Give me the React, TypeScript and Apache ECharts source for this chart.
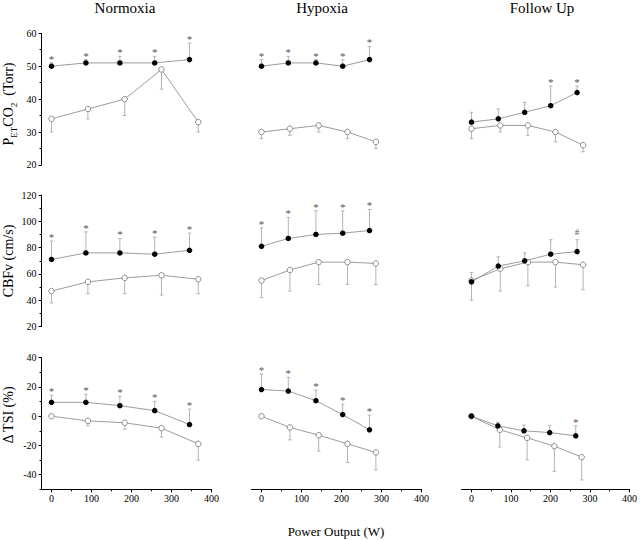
import React, { useEffect, useRef } from 'react';
import * as echarts from 'echarts';

// ---------- data ----------
const conditions = ['Normoxia', 'Hypoxia', 'Follow Up'];
const xTickValues = [0, 100, 200, 300, 400];
const xMinorTickValues = [50, 150, 250, 350];

// power output (W) of each stage, filled (●) and open (○) groups
const powerNormoxiaFilled = [0, 86, 171, 258, 345];
const powerNormoxiaOpen = [0, 91, 183, 275, 367];
const powerHypoxiaFilled = [0, 67, 136, 203, 270];
const powerHypoxiaOpen = [0, 71, 143, 215, 286];
const powerFollowFilled = [0, 67, 133, 198, 264];
const powerFollowOpen = [0, 72, 141, 210, 279];

// PETCO2 (Torr)
const petNormoxiaFilledMean = [50, 51, 51, 51, 52];
const petNormoxiaFilledSD = [1, 1, 2, 2, 5];
const petNormoxiaOpenMean = [34, 37, 40, 49, 33];
const petNormoxiaOpenSD = [4, 3, 5, 6, 3];
const petHypoxiaFilledMean = [50, 51, 51, 50, 52];
const petHypoxiaFilledSD = [2, 2, 1, 2, 4];
const petHypoxiaOpenMean = [30, 31, 32, 30, 27];
const petHypoxiaOpenSD = [2, 2, 2, 2, 2];
const petFollowFilledMean = [33, 34, 36, 38, 42];
const petFollowFilledSD = [3, 3, 3, 6, 2];
const petFollowOpenMean = [31, 32, 32, 30, 26];
const petFollowOpenSD = [3, 2, 3, 3, 2];

// CBFv (cm/s)
const cbfNormoxiaFilledMean = [71, 76, 76, 75, 78];
const cbfNormoxiaFilledSD = [14, 16, 11, 13, 13];
const cbfNormoxiaOpenMean = [47, 54, 57, 59, 56];
const cbfNormoxiaOpenSD = [9, 9, 12, 15, 11];
const cbfHypoxiaFilledMean = [81, 87, 90, 91, 93];
const cbfHypoxiaFilledSD = [14, 16, 18, 17, 16];
const cbfHypoxiaOpenMean = [55, 63, 69, 69, 68];
const cbfHypoxiaOpenSD = [13, 16, 17, 17, 16];
const cbfFollowFilledMean = [54, 66, 70, 75, 77];
const cbfFollowFilledSD = [7, 7, 6, 11, 9];
const cbfFollowOpenMean = [55, 64, 69, 69, 67];
const cbfFollowOpenSD = [15, 17, 18, 19, 19];

// Delta TSI (%)
const tsiNormoxiaFilledMean = [9.5, 9.5, 7.2, 3.8, -5.7];
const tsiNormoxiaFilledSD = [4.8, 5.5, 6.4, 6.4, 10.5];
const tsiNormoxiaOpenMean = [0, -3.2, -4.5, -8.2, -18.9];
const tsiNormoxiaOpenSD = [0, 3.4, 4.4, 6.1, 11.1];
const tsiHypoxiaFilledMean = [18.2, 17.2, 10.6, 1.1, -9.3];
const tsiHypoxiaFilledSD = [10.6, 9.4, 7.3, 7.1, 10];
const tsiHypoxiaOpenMean = [0, -7.7, -13, -18.9, -24.8];
const tsiHypoxiaOpenSD = [0, 8.5, 10.9, 12.7, 12];
const tsiFollowFilledMean = [0, -6.6, -10, -11.2, -13.4];
const tsiFollowFilledSD = [0, 2.5, 3.9, 4.6, 6.8];
const tsiFollowOpenMean = [0, -9.3, -14.8, -20.5, -28];
const tsiFollowOpenSD = [0, 11.8, 15, 17.2, 15.6];

// significance marks above the filled group
const marksPetNormoxia = ['*', '*', '*', '*', '*'];
const marksPetHypoxia = ['*', '*', '*', '*', '*'];
const marksPetFollow = ['', '', '', '*', '*'];
const marksCbfNormoxia = ['*', '*', '*', '*', '*'];
const marksCbfHypoxia = ['*', '*', '*', '*', '*'];
const marksCbfFollow = ['', '', '', '', '#'];
const marksTsiNormoxia = ['*', '*', '*', '*', '*'];
const marksTsiHypoxia = ['*', '*', '*', '*', '*'];
const marksTsiFollow = ['', '', '', '', '*'];

// y-axis ticks per row
const petTicks = [20, 30, 40, 50, 60];
const petMinorTicks = [25, 35, 45, 55];
const cbfTicks = [20, 40, 60, 80, 100, 120];
const cbfMinorTicks = [30, 50, 70, 90, 110];
const tsiTicks = [-40, -20, 0, 20, 40];
const tsiMinorTicks = [-50, -30, -10, 10, 30];

// ---------- layout & style ----------
const FONT = 'Liberation Serif';
const GRID_LEFT = [41.5, 251.5, 461.5];
const GRID_TOP = [33.3, 195, 357.7];
const GRID_W = 170;
const GRID_H = 131.6;
const LINE_C = '#9c9c9c';
const ERR_C = '#b4b4b4';
const MARK_C = '#555';

type Panel = {
  fx: number[]; fm: number[]; fsd: number[];
  ox: number[]; om: number[]; osd: number[];
  marks: string[];
};

const rows: Panel[][] = [
  [
    { fx: powerNormoxiaFilled, fm: petNormoxiaFilledMean, fsd: petNormoxiaFilledSD, ox: powerNormoxiaOpen, om: petNormoxiaOpenMean, osd: petNormoxiaOpenSD, marks: marksPetNormoxia },
    { fx: powerHypoxiaFilled, fm: petHypoxiaFilledMean, fsd: petHypoxiaFilledSD, ox: powerHypoxiaOpen, om: petHypoxiaOpenMean, osd: petHypoxiaOpenSD, marks: marksPetHypoxia },
    { fx: powerFollowFilled, fm: petFollowFilledMean, fsd: petFollowFilledSD, ox: powerFollowOpen, om: petFollowOpenMean, osd: petFollowOpenSD, marks: marksPetFollow },
  ],
  [
    { fx: powerNormoxiaFilled, fm: cbfNormoxiaFilledMean, fsd: cbfNormoxiaFilledSD, ox: powerNormoxiaOpen, om: cbfNormoxiaOpenMean, osd: cbfNormoxiaOpenSD, marks: marksCbfNormoxia },
    { fx: powerHypoxiaFilled, fm: cbfHypoxiaFilledMean, fsd: cbfHypoxiaFilledSD, ox: powerHypoxiaOpen, om: cbfHypoxiaOpenMean, osd: cbfHypoxiaOpenSD, marks: marksCbfHypoxia },
    { fx: powerFollowFilled, fm: cbfFollowFilledMean, fsd: cbfFollowFilledSD, ox: powerFollowOpen, om: cbfFollowOpenMean, osd: cbfFollowOpenSD, marks: marksCbfFollow },
  ],
  [
    { fx: powerNormoxiaFilled, fm: tsiNormoxiaFilledMean, fsd: tsiNormoxiaFilledSD, ox: powerNormoxiaOpen, om: tsiNormoxiaOpenMean, osd: tsiNormoxiaOpenSD, marks: marksTsiNormoxia },
    { fx: powerHypoxiaFilled, fm: tsiHypoxiaFilledMean, fsd: tsiHypoxiaFilledSD, ox: powerHypoxiaOpen, om: tsiHypoxiaOpenMean, osd: tsiHypoxiaOpenSD, marks: marksTsiHypoxia },
    { fx: powerFollowFilled, fm: tsiFollowFilledMean, fsd: tsiFollowFilledSD, ox: powerFollowOpen, om: tsiFollowOpenMean, osd: tsiFollowOpenSD, marks: marksTsiFollow },
  ],
];

const rowRanges = [
  { min: 20, max: 60, ticks: petTicks, minor: petMinorTicks },
  { min: 20, max: 120, ticks: cbfTicks, minor: cbfMinorTicks },
  { min: -50, max: 40, ticks: tsiTicks, minor: tsiMinorTicks },
];

function buildOption() {
  const grid: any[] = [];
  const xAxis: any[] = [];
  const yAxis: any[] = [];
  const series: any[] = [];

  const labelStyle = { fontFamily: FONT, fontSize: 10, color: '#000' };

  for (let r = 0; r < 3; r++) {
    for (let c = 0; c < 3; c++) {
      const gi = grid.length;
      grid.push({ left: GRID_LEFT[c], top: GRID_TOP[r], width: GRID_W, height: GRID_H });
      const showX = r === 2;
      const showY = c === 0;
      const rr = rowRanges[r];

      const xMain = xAxis.length;
      xAxis.push({
        type: 'value', gridIndex: gi, min: -25, max: 400, position: 'bottom', show: showX,
        splitLine: { show: false },
        axisLine: { show: true, onZero: false, lineStyle: { color: '#000', width: 1 } },
        axisTick: { show: true, length: 3, customValues: xTickValues, lineStyle: { color: '#000' } },
        axisLabel: { show: true, customValues: xTickValues, margin: 4, ...labelStyle },
      });
      xAxis.push({
        type: 'value', gridIndex: gi, min: -25, max: 400, position: 'bottom', show: showX,
        splitLine: { show: false },
        axisLine: { show: false, onZero: false },
        axisTick: { show: true, length: 2, customValues: xMinorTickValues, lineStyle: { color: '#000' } },
        axisLabel: { show: false },
      });

      const yMain = yAxis.length;
      yAxis.push({
        type: 'value', gridIndex: gi, min: rr.min, max: rr.max, position: 'left', show: showY,
        splitLine: { show: false },
        axisLine: { show: true, onZero: false, lineStyle: { color: '#000', width: 1 } },
        axisTick: { show: true, length: 3, customValues: rr.ticks, lineStyle: { color: '#000' } },
        axisLabel: { show: true, customValues: rr.ticks, margin: 5, ...labelStyle },
      });
      yAxis.push({
        type: 'value', gridIndex: gi, min: rr.min, max: rr.max, position: 'left', show: showY,
        splitLine: { show: false },
        axisLine: { show: false, onZero: false },
        axisTick: { show: true, length: 2, customValues: rr.minor, lineStyle: { color: '#000' } },
        axisLabel: { show: false },
      });

      const p = rows[r][c];
      const filledData = p.fx.map((x, i) => [x, p.fm[i], p.fsd[i]]);
      const openData = p.ox.map((x, i) => [x, p.om[i], p.osd[i]]);

      const errSeries = (data: number[][], dir: number) => ({
        type: 'custom', xAxisIndex: xMain, yAxisIndex: yMain, data, z: 1, silent: true,
        encode: { x: 0, y: 1 },
        renderItem: (params: any, api: any) => {
          const x = api.value(0), m = api.value(1), sd = api.value(2);
          if (!sd) return { type: 'group', children: [] };
          const a = api.coord([x, m]);
          const b = api.coord([x, m + dir * sd]);
          return {
            type: 'group',
            children: [
              { type: 'line', shape: { x1: a[0], y1: a[1], x2: b[0], y2: b[1] }, style: { stroke: ERR_C, lineWidth: 1 } },
              { type: 'line', shape: { x1: b[0] - 1.8, y1: b[1], x2: b[0] + 1.8, y2: b[1] }, style: { stroke: ERR_C, lineWidth: 1 } },
            ],
          };
        },
      });

      series.push(errSeries(filledData, 1));
      series.push(errSeries(openData, -1));

      series.push({
        type: 'line', xAxisIndex: xMain, yAxisIndex: yMain, data: openData.map((d) => [d[0], d[1]]),
        symbol: 'circle', symbolSize: 5.5, z: 3, silent: true,
        lineStyle: { color: LINE_C, width: 1 },
        itemStyle: { color: '#fff', borderColor: '#8a8a8a', borderWidth: 1 },
      });
      series.push({
        type: 'line', xAxisIndex: xMain, yAxisIndex: yMain, data: filledData.map((d) => [d[0], d[1]]),
        symbol: 'circle', symbolSize: 5.5, z: 4, silent: true,
        lineStyle: { color: LINE_C, width: 1 },
        itemStyle: { color: '#000', borderWidth: 0 },
      });

      const marks = p.marks;
      series.push({
        type: 'custom', xAxisIndex: xMain, yAxisIndex: yMain, data: filledData, z: 5, silent: true,
        encode: { x: 0, y: 1 },
        renderItem: (params: any, api: any) => {
          const mark = marks[params.dataIndex];
          if (!mark) return { type: 'group', children: [] };
          const pt = api.coord([api.value(0), api.value(1) + api.value(2)]);
          const isStar = mark === '*';
          return {
            type: 'text', x: pt[0], y: pt[1] - (isStar ? 4 : 8),
            style: {
              text: mark, fill: MARK_C, fontFamily: FONT, fontSize: isStar ? 11 : 9,
              align: 'center', verticalAlign: 'middle',
            },
          };
        },
      });
    }
  }

  const titleX = [125, 322, 542];
  const graphic: any[] = conditions.map((t, i) => ({
    type: 'text', x: titleX[i], y: 8, silent: true,
    style: { text: t, fontFamily: FONT, fontSize: 15, fill: '#000', align: 'center', verticalAlign: 'middle' },
  }));

  const nameRich = {
    a: { fontFamily: FONT, fontSize: 14, lineHeight: 20, verticalAlign: 'middle', color: '#000' },
    s: { fontFamily: FONT, fontSize: 9, lineHeight: 20, verticalAlign: 'bottom', color: '#000' },
  };
  graphic.push({
    type: 'text', x: 8, y: 104, rotation: Math.PI / 2, silent: true,
    style: { text: '{a|P}{s|ET}{a|CO}{s|2}{a|  (Torr)}', rich: nameRich, align: 'center', verticalAlign: 'middle' },
  });
  graphic.push({
    type: 'text', x: 8, y: 261, rotation: Math.PI / 2, silent: true,
    style: { text: 'CBFv (cm/s)', fontFamily: FONT, fontSize: 14, fill: '#000', align: 'center', verticalAlign: 'middle' },
  });
  graphic.push({
    type: 'text', x: 8, y: 415, rotation: Math.PI / 2, silent: true,
    style: { text: 'Δ TSI (%)', fontFamily: FONT, fontSize: 14, fill: '#000', align: 'center', verticalAlign: 'middle' },
  });
  graphic.push({
    type: 'text', x: 336, y: 531, silent: true,
    style: { text: 'Power Output (W)', fontFamily: FONT, fontSize: 13, fill: '#000', align: 'center', verticalAlign: 'middle' },
  });

  return {
    animation: false,
    backgroundColor: '#fff',
    grid, xAxis, yAxis, series, graphic,
  };
}

export default function App() {
  const ref = useRef<HTMLDivElement>(null);
  useEffect(() => {
    if (!ref.current) return;
    const chart = echarts.init(ref.current, undefined, { renderer: 'svg' });
    chart.setOption(buildOption() as any);
    return () => chart.dispose();
  }, []);
  return (
    <div
      ref={ref}
      style={{ position: 'fixed', left: 0, top: 0, width: 640, height: 540, background: '#fff' }}
    />
  );
}
